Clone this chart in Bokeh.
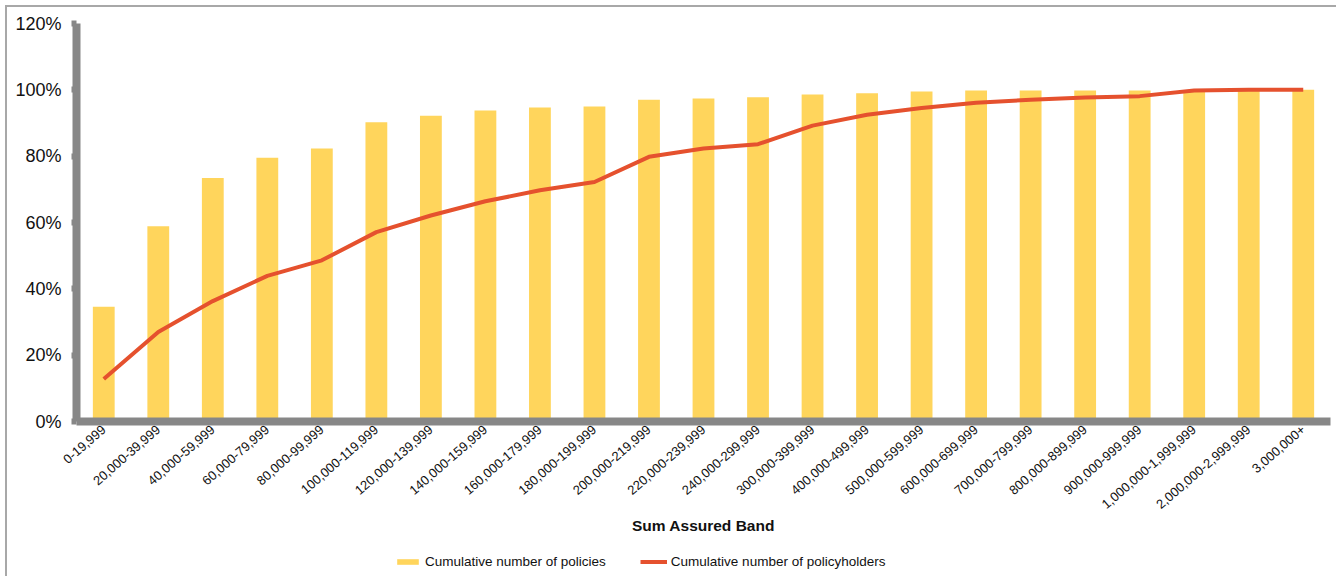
from bokeh.plotting import figure
from bokeh.layouts import column
from bokeh.models import FactorRange, Range1d, FixedTicker, PrintfTickFormatter, Legend, LegendItem, ColumnDataSource
from bokeh.embed import file_html
from bokeh.resources import INLINE
import math

categories = ["0-19,999", "20,000-39,999", "40,000-59,999", "60,000-79,999", "80,000-99,999",
              "100,000-119,999", "120,000-139,999", "140,000-159,999", "160,000-179,999",
              "180,000-199,999", "200,000-219,999", "220,000-239,999", "240,000-299,999",
              "300,000-399,999", "400,000-499,999", "500,000-599,999", "600,000-699,999",
              "700,000-799,999", "800,000-899,999", "900,000-999,999", "1,000,000-1,999,999",
              "2,000,000-2,999,999", "3,000,000+"]
policies = [34.6, 58.9, 73.4, 79.5, 82.3, 90.2, 92.2, 93.8, 94.7, 95.0, 97.0, 97.4, 97.8,
            98.6, 99.0, 99.5, 99.8, 99.8, 99.8, 99.8, 99.9, 100.0, 100.0]
policyholders = [12.8, 27.0, 36.3, 43.9, 48.6, 57.1, 62.1, 66.4, 69.7, 72.2, 79.8, 82.3, 83.6,
                 89.2, 92.5, 94.5, 96.1, 97.0, 97.7, 98.1, 99.8, 100.0, 100.0]
y_ticks = [0, 20, 40, 60, 80, 100, 120]
series_names = ["Cumulative number of policies", "Cumulative number of policyholders"]

FONT = "Liberation Sans"
AXIS_GREY = "#878787"
BORDER = "#a8a8a8"
BAR_COLOR = "#FFD55C"
LINE_COLOR = "#E5512E"

src = ColumnDataSource(dict(cat=categories, pol=policies, holders=policyholders))

p = figure(x_range=FactorRange(*categories, range_padding=0), y_range=Range1d(0, 120),
           width=1336, height=546, output_backend="svg", toolbar_location=None,
           min_border_left=76, min_border_right=6, min_border_top=23, min_border_bottom=125)
p.x_range.range_padding = 0
p.outline_line_color = None
p.xgrid.grid_line_color = None
p.ygrid.grid_line_color = None
p.border_fill_alpha = 0
p.background_fill_color = "white"

p.vbar(x="cat", top="pol", width=0.40, source=src, fill_color=BAR_COLOR, line_color=None)
p.line(x="cat", y="holders", source=src, line_color=LINE_COLOR, line_width=4, line_join="round")

# y axis
ya = p.yaxis[0]
ya.ticker = FixedTicker(ticks=y_ticks)
ya.formatter = PrintfTickFormatter(format="%d%%")
ya.axis_line_color = AXIS_GREY
ya.axis_line_width = 8
ya.major_tick_line_color = AXIS_GREY
ya.major_tick_line_width = 6
ya.major_tick_out = 5
ya.major_tick_in = 0
ya.minor_tick_line_color = None
ya.major_label_standoff = 10
ya.major_label_text_font = FONT
ya.major_label_text_font_size = "18px"
ya.major_label_text_color = "#111111"

# x axis
xa = p.xaxis[0]
xa.axis_line_color = AXIS_GREY
xa.axis_line_width = 8
xa.major_tick_line_color = None
xa.minor_tick_line_color = None
xa.major_tick_out = 0
xa.major_tick_in = 0
xa.major_label_orientation = math.radians(41)
xa.major_label_standoff = 6
xa.major_label_text_font = FONT
xa.major_label_text_font_size = "13px"
xa.major_label_text_color = "#111111"
xa.axis_label = "Sum Assured Band"
xa.axis_label_text_font = FONT
xa.axis_label_text_font_style = "bold"
xa.axis_label_text_font_size = "15.5px"
xa.axis_label_text_color = "#111111"
xa.axis_label_standoff = 1

# legend strip: a small figure below the chart; its glyphs use the same data but lie
# outside its (invisible) y range, so only the legend keys show.
lf = figure(width=1336, height=30, x_range=FactorRange(*categories, range_padding=0),
            y_range=Range1d(1000, 1001),
            x_axis_type=None, y_axis_type=None, output_backend="svg", toolbar_location=None,
            min_border=0)
lf.outline_line_color = None
lf.xgrid.grid_line_color = None
lf.ygrid.grid_line_color = None
lf.border_fill_alpha = 0
lf.background_fill_alpha = 0
kb = lf.vbar(x="cat", top="pol", width=0.40, source=src, fill_color=BAR_COLOR, line_color=None)
kl = lf.line(x="cat", y="holders", source=src, line_color=LINE_COLOR, line_width=4)
legend = Legend(items=[LegendItem(label=series_names[0], renderers=[kb]),
                       LegendItem(label=series_names[1], renderers=[kl])],
                orientation="horizontal", location=(318, 7),
                glyph_width=27, glyph_height=7, label_height=7, label_standoff=4, spacing=34,
                padding=0, margin=0, border_line_color=None, background_fill_alpha=0,
                label_text_font=FONT, label_text_font_size="13.5px", label_text_color="#111111")
lf.add_layout(legend, "center")

layout = column(p, lf, spacing=0)
layout.styles = {
    "background-color": "white",
    "background-image": f"linear-gradient({BORDER},{BORDER}), linear-gradient({BORDER},{BORDER})",
    "background-size": "2px 100%, 100% 2px",
    "background-position": "5px 5px, 5px 5px",
    "background-repeat": "no-repeat",
}

open("out.html", "w").write(file_html(layout, INLINE))
